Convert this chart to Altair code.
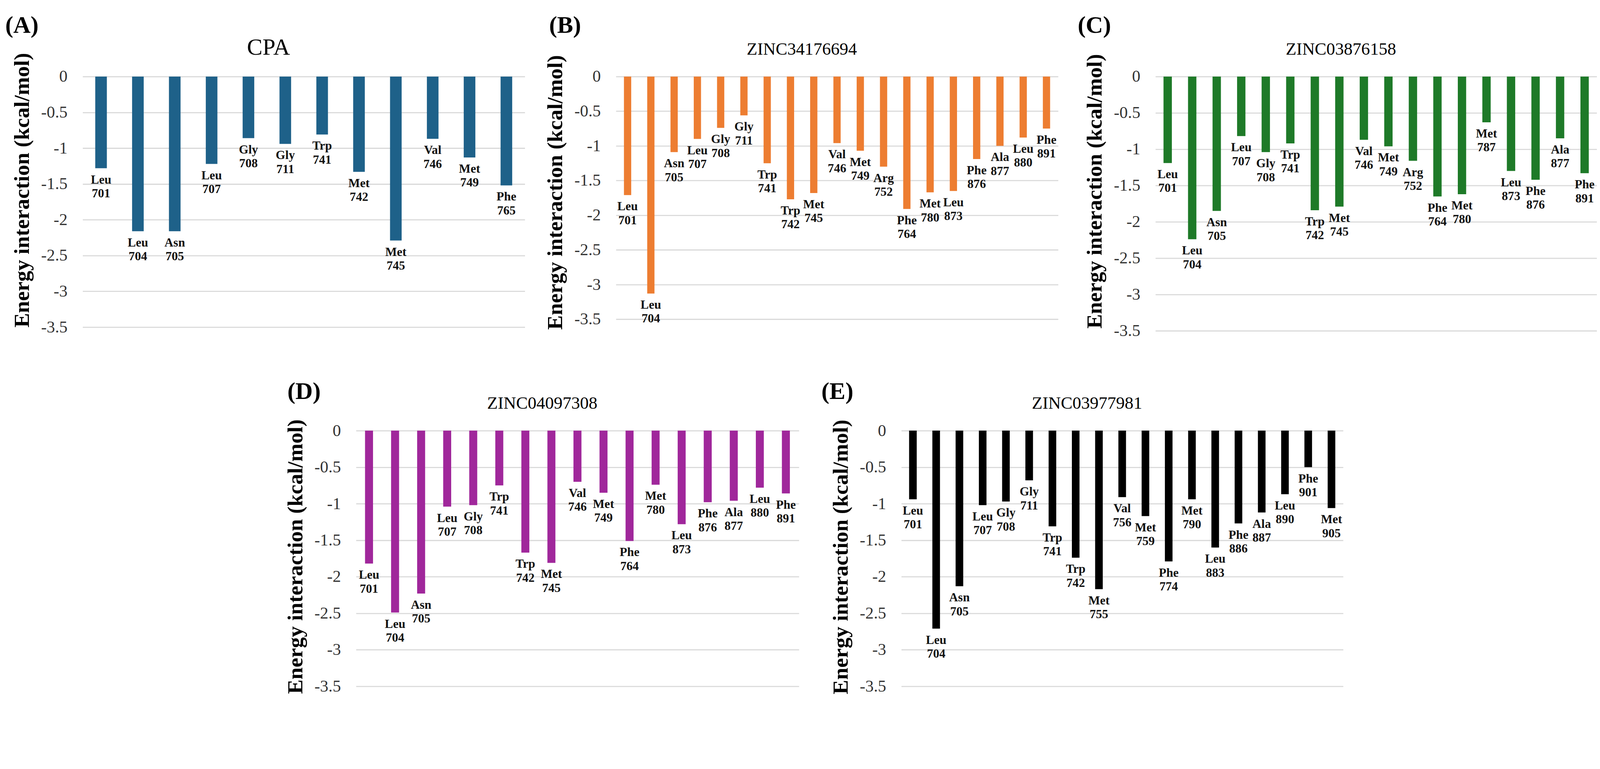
import altair as alt
import pandas as pd

# ---------------- data ----------------
a_res = ["Leu", "Leu", "Asn", "Leu", "Gly", "Gly", "Trp", "Met", "Met", "Val", "Met", "Phe"]
a_num = [701, 704, 705, 707, 708, 711, 741, 742, 745, 746, 749, 765]
a_val = [-1.28, -2.16, -2.16, -1.22, -0.86, -0.94, -0.81, -1.33, -2.29, -0.87, -1.13, -1.52]

b_res = ["Leu", "Leu", "Asn", "Leu", "Gly", "Gly", "Trp", "Trp", "Met", "Val", "Met", "Arg",
         "Phe", "Met", "Leu", "Phe", "Ala", "Leu", "Phe"]
b_num = [701, 704, 705, 707, 708, 711, 741, 742, 745, 746, 749, 752, 764, 780, 873, 876, 877, 880, 891]
b_val = [-1.71, -3.13, -1.09, -0.90, -0.74, -0.56, -1.25, -1.77, -1.68, -0.96, -1.07, -1.30,
         -1.91, -1.67, -1.65, -1.19, -1.00, -0.88, -0.75]

c_res = ["Leu", "Leu", "Asn", "Leu", "Gly", "Trp", "Trp", "Met", "Val", "Met", "Arg", "Phe",
         "Met", "Met", "Leu", "Phe", "Ala", "Phe"]
c_num = [701, 704, 705, 707, 708, 741, 742, 745, 746, 749, 752, 764, 780, 787, 873, 876, 877, 891]
c_val = [-1.19, -2.24, -1.85, -0.82, -1.04, -0.92, -1.84, -1.79, -0.87, -0.96, -1.16, -1.65,
         -1.62, -0.63, -1.30, -1.42, -0.85, -1.33]

d_res = ["Leu", "Leu", "Asn", "Leu", "Gly", "Trp", "Trp", "Met", "Val", "Met", "Phe", "Met",
         "Leu", "Phe", "Ala", "Leu", "Phe"]
d_num = [701, 704, 705, 707, 708, 741, 742, 745, 746, 749, 764, 780, 873, 876, 877, 880, 891]
d_val = [-1.82, -2.49, -2.23, -1.04, -1.02, -0.75, -1.67, -1.81, -0.70, -0.85, -1.51, -0.74,
         -1.28, -0.98, -0.96, -0.78, -0.86]

e_res = ["Leu", "Leu", "Asn", "Leu", "Gly", "Gly", "Trp", "Trp", "Met", "Val", "Met", "Phe",
         "Met", "Leu", "Phe", "Ala", "Leu", "Phe", "Met"]
e_num = [701, 704, 705, 707, 708, 711, 741, 742, 755, 756, 759, 774, 790, 883, 886, 887, 890, 901, 905]
e_val = [-0.94, -2.71, -2.13, -1.02, -0.97, -0.68, -1.31, -1.74, -2.17, -0.91, -1.17, -1.79,
         -0.94, -1.60, -1.27, -1.12, -0.87, -0.50, -1.06]

y_ticks = [0, -0.5, -1, -1.5, -2, -2.5, -3, -3.5]
y_title = "Energy interaction (kcal/mol)"

SERIF = "Liberation Serif"


def panel(letter, title, title_size, res, num, val, color, bar_size, w, h,
          letter_dx, letter_dy, ytitle_dy):
    df = pd.DataFrame({
        "key": [f"{r}{n}" for r, n in zip(res, num)],
        "label": [f"{r}\n{n}" for r, n in zip(res, num)],
        "value": val,
    })
    x = alt.X("key:N", sort=None, axis=None,
              scale=alt.Scale(type="band", paddingInner=0, paddingOuter=0))
    y = alt.Y("value:Q",
              scale=alt.Scale(domain=[-3.5, 0], nice=False),
              axis=alt.Axis(values=y_ticks, title="",
                            labelFont=SERIF, labelFontSize=46, labelColor="#333333",
                            labelPadding=42,
                            labelExpr="datum.value < 0 ? '-' + abs(datum.value) : '' + datum.value",
                            grid=True, gridColor="#d9d9d9", gridWidth=3,
                            domain=False, ticks=False))
    bars = alt.Chart(df).mark_bar(size=bar_size, color=color).encode(x=x, y=y)
    labels = alt.Chart(df).mark_text(
        font=SERIF, fontSize=34, fontWeight="bold", color="#111111",
        baseline="top", align="center", dy=15, lineBreak="\n", lineHeight=38
    ).encode(x=x, y=alt.Y("value:Q"), text="label:N")
    tag = alt.Chart(pd.DataFrame({"t": [letter]})).mark_text(
        font=SERIF, fontSize=66, fontWeight="bold", color="#000000",
        align="left", baseline="top"
    ).encode(x=alt.value(letter_dx), y=alt.value(letter_dy), text="t:N")
    head = alt.Chart(pd.DataFrame({"t": [title]})).mark_text(
        font=SERIF, fontSize=title_size, fontWeight="normal", color="#000000",
        align="center", baseline="alphabetic"
    ).encode(x=alt.value(w / 2 - 97), y=alt.value(-60), text="t:N")
    ytl = alt.Chart(pd.DataFrame({"t": [y_title]})).mark_text(
        font=SERIF, fontSize=60, fontWeight="bold", color="#000000",
        align="center", baseline="middle", angle=270
    ).encode(x=alt.value(-166), y=alt.value(h / 2 + ytitle_dy), text="t:N")
    return alt.layer(bars, labels, tag, head, ytl).properties(width=w, height=h)


A = panel("(A)", "CPA", 64, a_res, a_num, a_val, "#1e6189", 32, 1218, 690, -213, -172, -32)
B = panel("(B)", "ZINC34176694", 48, b_res, b_num, b_val, "#ed7d31", 20, 1218, 668, -184, -172, -15)
C = panel("(C)", "ZINC03876158", 48, c_res, c_num, c_val, "#1e7a28", 23, 1216, 700, -214, -172, -34)
D = panel("(D)", "ZINC04097308", 48, d_res, d_num, d_val, "#a0279b", 22, 1220, 704, -189, -139, -5)
E = panel("(E)", "ZINC03977981", 48, e_res, e_num, e_val, "#000000", 21, 1217, 704, -220, -139, -4)

spacer = alt.Chart(pd.DataFrame({"s": [0]})).mark_point(opacity=0).properties(width=494, height=10)

top = alt.hconcat(A, B, C, spacing=54)
bottom = alt.hconcat(spacer, D, E, spacing=62)

chart = alt.vconcat(top, bottom, spacing=112).properties(
    padding={"left": 6, "top": -39, "right": 0, "bottom": -40},
    background="white",
).configure_view(strokeWidth=0)

chart.save("out.html", embed_options={"renderer": "svg", "actions": False})
